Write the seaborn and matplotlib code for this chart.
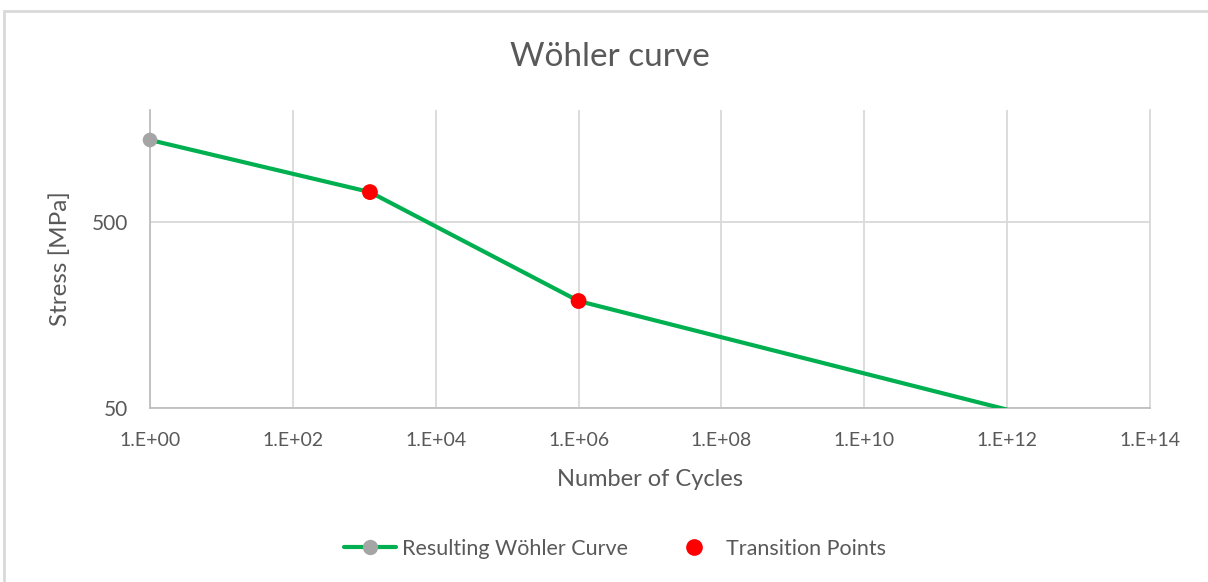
import matplotlib
matplotlib.use("Agg")
import matplotlib.pyplot as plt
from matplotlib.lines import Line2D
from matplotlib.patches import Rectangle
import numpy as np
import pandas as pd
import seaborn as sns

# S-N (Wöhler) curve data
cycles = [1, 1200, 1e6, 1e12]
stress = [1380, 724, 188, 49]

# knee points between the curve segments
transition_cycles = [1200, 1e6]
transition_stress = [724, 188]

x_tick_values = [10.0 ** k for k in range(0, 15, 2)]
x_tick_labels = ["1.E+00", "1.E+02", "1.E+04", "1.E+06", "1.E+08", "1.E+10", "1.E+12", "1.E+14"]
y_tick_values = [50, 500]
y_tick_labels = ["50", "500"]

sns.set_theme(style="white")
plt.rcParams["font.family"] = ["Lato", "DejaVu Sans"]

TEXT = "#595959"
GRID = "#d9d9d9"
GREEN = "#00b050"
GREY = "#a5a5a5"
RED = "#ff0000"

fig = plt.figure(figsize=(12.08, 5.82), dpi=100)
W, H = 1208, 582
ax = fig.add_axes([150 / W, 1 - 408 / H, 1000 / W, 298 / H])

curve = pd.DataFrame({"cycles": cycles, "stress": stress})
knees = pd.DataFrame({"cycles": transition_cycles, "stress": transition_stress})

sns.lineplot(data=curve, x="cycles", y="stress", ax=ax, color=GREEN,
             linewidth=3.0, sort=False, legend=False, zorder=3)
# marker of the curve's first point sits on the left edge
ax.scatter(curve["cycles"].iloc[:1], curve["stress"].iloc[:1], s=110,
           color=GREY, edgecolor="none", zorder=4, clip_on=False)
sns.scatterplot(data=knees, x="cycles", y="stress", ax=ax, color=RED,
                s=130, edgecolor="none", legend=False, zorder=5)

ax.set_xscale("log")
ax.set_yscale("log")
ax.set_xlim(1, 1e14)
ax.set_ylim(50, 2000)

ax.set_xticks(x_tick_values)
ax.set_xticklabels(x_tick_labels)
ax.set_yticks(y_tick_values)
ax.set_yticklabels(y_tick_labels)
ax.xaxis.set_minor_locator(matplotlib.ticker.NullLocator())
ax.yaxis.set_minor_locator(matplotlib.ticker.NullLocator())

ax.grid(True, color=GRID, linewidth=1.3)
ax.set_axisbelow(True)
ax.tick_params(axis="both", length=0, labelcolor=TEXT)
ax.tick_params(axis="x", pad=17, labelsize=14)
ax.tick_params(axis="y", pad=16, labelsize=15)

ax.spines["top"].set_visible(False)
ax.spines["right"].set_color(GRID)
ax.spines["right"].set_linewidth(1.3)
for side in ("left", "bottom"):
    ax.spines[side].set_color("#bfbfbf")
    ax.spines[side].set_linewidth(1.3)

ax.set_xlabel("Number of Cycles", fontsize=17, color=TEXT)
ax.set_ylabel("Stress [MPa]", fontsize=17.5, color=TEXT)
ax.xaxis.set_label_coords(0.5, -(480 - 408) / 298)
ax.xaxis.label.set_verticalalignment("center")
ax.yaxis.set_label_coords(-(150 - 60) / 1000, 0.5)
ax.yaxis.label.set_verticalalignment("center")
ax.yaxis.label.set_horizontalalignment("center")

fig.text(610 / W, 1 - 57 / H, "Wöhler curve", fontsize=24, color=TEXT,
         ha="center", va="center")

handles = [
    Line2D([], [], color=GREEN, linewidth=3.0, marker="o", markersize=10,
           markerfacecolor=GREY, markeredgecolor=GREY),
    Line2D([], [], linestyle="none", marker="o", markersize=11,
           markerfacecolor=RED, markeredgecolor=RED),
]
fig.legend(handles, ["Resulting Wöhler Curve", "Transition Points"],
           loc="center", bbox_to_anchor=(615 / W, 1 - 549 / H), ncol=2,
           frameon=False, fontsize=15.5, labelcolor=TEXT, handlelength=2.4,
           handletextpad=0.3, columnspacing=1.85)

# chart-area frame
fig.patches.append(Rectangle((4 / W, -0.1), 1.2, 1 - 11 / H + 0.1,
                             transform=fig.transFigure, fill=False,
                             edgecolor="#d9d9d9", linewidth=2.0))

fig.savefig("out.png", dpi=100, facecolor="white")
